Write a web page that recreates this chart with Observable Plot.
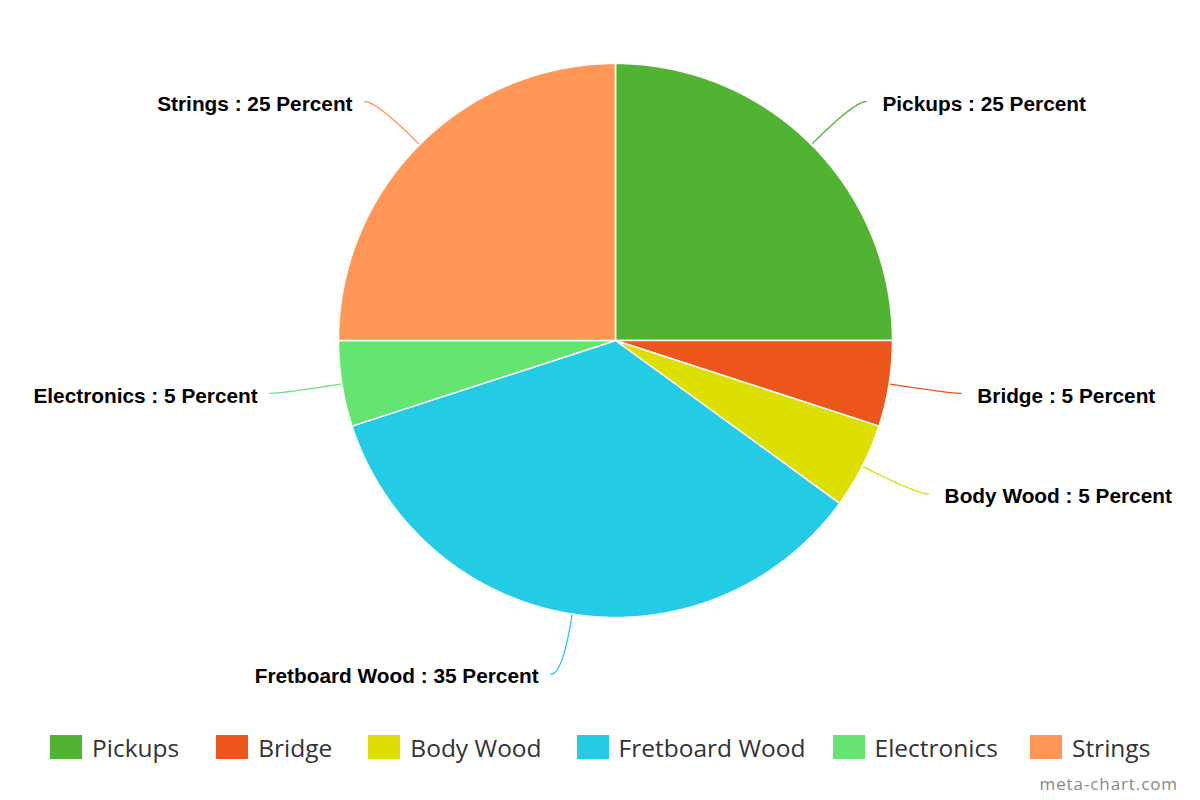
<!DOCTYPE html>
<html>
<head>
<meta charset="utf-8">
<script src="https://cdn.jsdelivr.net/npm/d3@7"></script>
<script src="https://cdn.jsdelivr.net/npm/@observablehq/plot@0.6"></script>
<style>
  html, body { margin: 0; padding: 0; background: #fff; }
  body { width: 1200px; height: 800px; position: relative; overflow: hidden; }
  #chart svg { display: block; }
  #legend { display: flex; justify-content: flex-start; align-items: center; padding-top: 35px; padding-left: 50px; height: 24px;
    font-family: "Open Sans", sans-serif; font-size: 24.5px; color: #333; }
  .item { display: flex; align-items: center; }
  .sw { width: 32px; height: 24px; margin-right: 10px; }
  #credit { position: absolute; right: 22px; top: 772px; font-family: "Open Sans", sans-serif; font-size: 17px;
    color: #888; letter-spacing: 0.9px; }
</style>
</head>
<body>
<div id="chart"></div>
<div id="legend"></div>
<div id="credit">meta-chart.com</div>
<script>
const categories = ["Pickups", "Bridge", "Body Wood", "Fretboard Wood", "Electronics", "Strings"];
const percents = [25, 5, 5, 35, 5, 25];
const colors = ["#50B432", "#ED561B", "#DDDF00", "#24CBE5", "#64E572", "#FF9655"];

const W = 1200, H = 700, R = 277, CX = 615, CY = 340;
const rows = categories.map((name, i) => ({name, value: percents[i]}));
const arcs = d3.pie().sort(null).value(d => d.value)(rows);

// slice polygons (angle 0 at top, clockwise; unit radius)
const slicePts = [];
arcs.forEach(p => {
  const name = p.data.name;
  slicePts.push({name, x: 0, y: 0});
  const n = Math.max(4, Math.ceil((p.endAngle - p.startAngle) / 0.005));
  for (let i = 0; i <= n; i++) {
    const a = p.startAngle + (p.endAngle - p.startAngle) * i / n;
    slicePts.push({name, x: Math.sin(a), y: Math.cos(a)});
  }
});

// labels and connectors
const labelR = 1.22, hook = 12 / R, padRight = 16 / R, padLeft = 12 / R;
const labels = [];
const connPts = [];
arcs.forEach(p => {
  const name = p.data.name;
  const mid = (p.startAngle + p.endAngle) / 2;
  const s = Math.sin(mid), c = Math.cos(mid);
  const side = s >= 0 ? 1 : -1;
  const P0 = [s * 1.005, c * 1.005];
  const C = [s * labelR, c * labelR];
  const E = [C[0] + side * hook, C[1]];
  for (let i = 0; i <= 24; i++) {
    const t = i / 24, u = 1 - t;
    connPts.push({name,
      x: u * u * P0[0] + 2 * u * t * C[0] + t * t * E[0],
      y: u * u * P0[1] + 2 * u * t * C[1] + t * t * E[1]});
  }
  labels.push({name, value: p.data.value, side, x: E[0] + (side > 0 ? padRight : -padLeft), y: E[1]});
});

const labelText = d => `${d.name} : ${d.value} Percent`;
const txt = {fontFamily: "Liberation Sans, Arial, sans-serif", fontWeight: "bold", fontSize: 20.8, fill: "#000", dy: 2.5};

const chart = Plot.plot({
  width: W, height: H,
  marginTop: 0, marginBottom: 0, marginLeft: 0, marginRight: 0,
  x: {domain: [-CX / R, (W - CX) / R], axis: null},
  y: {domain: [-(H - CY) / R, CY / R], axis: null},
  color: {domain: categories, range: colors},
  style: {overflow: "visible", background: "#fff"},
  marks: [
    Plot.line(connPts, {x: "x", y: "y", z: "name", stroke: "name", strokeWidth: 1.3, curve: "linear"}),
    Plot.line(slicePts, {x: "x", y: "y", z: "name", fill: "name", stroke: "#fff", strokeWidth: 1.5,
      strokeLinejoin: "round", curve: "linear-closed"}),
    Plot.text(labels.filter(d => d.side > 0), {x: "x", y: "y", text: labelText, textAnchor: "start", ...txt}),
    Plot.text(labels.filter(d => d.side < 0), {x: "x", y: "y", text: labelText, textAnchor: "end", ...txt})
  ]
});
document.getElementById("chart").appendChild(chart);

// legend item spacing (layout only)
const legendGaps = [37, 36, 35, 27, 32, 0];
const legend = document.getElementById("legend");
categories.forEach((name, i) => {
  const it = document.createElement("div");
  it.className = "item";
  it.style.marginRight = legendGaps[i] + "px";
  const sw = document.createElement("div");
  sw.className = "sw";
  sw.style.background = colors[i];
  const lab = document.createElement("span");
  lab.textContent = name;
  it.appendChild(sw); it.appendChild(lab);
  legend.appendChild(it);
});
</script>
</body>
</html>
